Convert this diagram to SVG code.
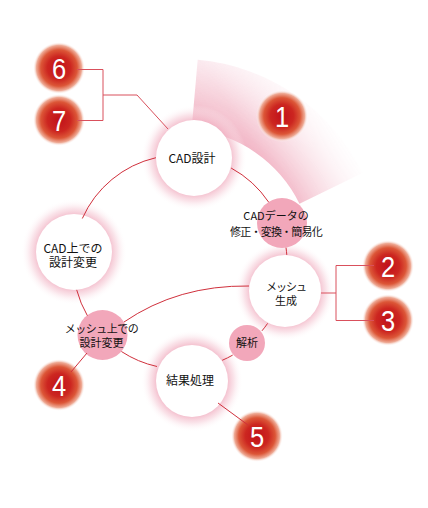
<svg xmlns="http://www.w3.org/2000/svg" width="428" height="508" viewBox="0 0 428 508">
<defs>
<radialGradient id="fanGrad" gradientUnits="userSpaceOnUse" cx="180" cy="262" r="203">
<stop offset="0.64" stop-color="#f0a9bc" stop-opacity="1"/>
<stop offset="0.8" stop-color="#f4c2cf" stop-opacity="0.95"/>
<stop offset="1" stop-color="#fae3ea" stop-opacity="0.85"/>
</radialGradient>
<linearGradient id="fanFade" gradientUnits="userSpaceOnUse" x1="205" y1="150" x2="330" y2="70">
<stop offset="0" stop-color="#ffffff"/>
<stop offset="0.3" stop-color="#d8d8d8"/>
<stop offset="0.85" stop-color="#000000"/>
</linearGradient>
<mask id="fanMask" maskUnits="userSpaceOnUse" x="0" y="0" width="428" height="508">
<rect x="0" y="0" width="428" height="508" fill="url(#fanFade)"/>
</mask>
<radialGradient id="glow">
<stop offset="0.66" stop-color="#f0aabd" stop-opacity="0.9"/>
<stop offset="0.82" stop-color="#f6cdd8" stop-opacity="0.55"/>
<stop offset="1" stop-color="#ffffff" stop-opacity="0"/>
</radialGradient>
<radialGradient id="badge">
<stop offset="0" stop-color="#c0101a"/>
<stop offset="0.45" stop-color="#cc2620"/>
<stop offset="0.7" stop-color="#dc5637"/>
<stop offset="0.87" stop-color="#eeaa95"/>
<stop offset="1" stop-color="#ffffff" stop-opacity="0"/>
</radialGradient>
<style>
.glow{fill:url(#glow)}
.wc{fill:#ffffff}
.pc{fill:#f2a7ba}
.bd{fill:url(#badge)}
.t{font-family:"Noto Sans CJK JP","Noto Sans",sans-serif;font-size:12px;fill:#111111;text-anchor:middle}
.ts{font-family:"Noto Sans CJK JP","Noto Sans",sans-serif;font-size:11px;fill:#111111;text-anchor:middle}
.n{font-family:"Liberation Sans","Arial",sans-serif;font-size:30px;fill:#ffffff;text-anchor:middle}
.c{fill:none;stroke:#d0303c;stroke-width:1}
.b{fill:none;stroke:#d9505c;stroke-width:1}
</style>
</defs>
<path id="fan" d="M 197.7 59.8 A 203 203 0 0 1 362.5 173.0 L 299.5 203.7 A 133 133 0 0 0 191.6 129.5 Z" fill="url(#fanGrad)" mask="url(#fanMask)"/>
<g id="node-cad">
<circle class="glow" cx="194" cy="158" r="53"/>
<circle class="wc" cx="194" cy="158" r="38"/>
<text class="t" x="192" y="163">CAD設計</text>
</g>
<g id="node-cadchange">
<circle class="glow" cx="74" cy="252" r="53"/>
<circle class="wc" cx="74" cy="252" r="38"/>
<text class="t"><tspan x="73" y="253">CAD上での</tspan><tspan x="73" y="267">設計変更</tspan></text>
</g>
<g id="node-mesh">
<circle class="glow" cx="285" cy="291" r="50"/>
<circle class="wc" cx="285" cy="291" r="36"/>
<text class="ts"><tspan x="286" y="291" letter-spacing="-1">メッシュ</tspan><tspan x="286" y="305">生成</tspan></text>
</g>
<g id="node-result">
<circle class="glow" cx="192" cy="381" r="51"/>
<circle class="wc" cx="192" cy="381" r="36"/>
<text class="t" x="190" y="385">結果処理</text>
</g>
<g id="node-cadfix">
<circle class="pc" cx="282" cy="223" r="25"/>
<text class="ts"><tspan x="276" y="220">CADデータの</tspan><tspan x="276" y="236" letter-spacing="-0.8">修正・変換・簡易化</tspan></text>
</g>
<g id="node-meshchange">
<circle class="pc" cx="102.5" cy="335" r="25"/>
<text class="ts"><tspan x="101.5" y="333" letter-spacing="-0.5">メッシュ上での</tspan><tspan x="101.5" y="347">設計変更</tspan></text>
</g>
<g id="node-analysis">
<circle class="pc" cx="247" cy="343" r="18"/>
<text class="ts" x="247" y="347">解析</text>
</g>
<g id="badge-1"><circle class="bd" cx="282" cy="116" r="26"/><text class="n" transform="translate(282,127) scale(0.85,1)">1</text></g>
<g id="badge-2"><circle class="bd" cx="388" cy="266" r="26"/><text class="n" transform="translate(388,277) scale(0.85,1)">2</text></g>
<g id="badge-3"><circle class="bd" cx="388" cy="320" r="26"/><text class="n" transform="translate(388,331) scale(0.85,1)">3</text></g>
<g id="badge-4"><circle class="bd" cx="59" cy="385" r="26"/><text class="n" transform="translate(59,396) scale(0.85,1)">4</text></g>
<g id="badge-5"><circle class="bd" cx="257" cy="436" r="26"/><text class="n" transform="translate(257,447) scale(0.85,1)">5</text></g>
<g id="badge-6"><circle class="bd" cx="59" cy="68" r="26"/><text class="n" transform="translate(59,79) scale(0.85,1)">6</text></g>
<g id="badge-7"><circle class="bd" cx="59" cy="120" r="26"/><text class="n" transform="translate(59,131) scale(0.85,1)">7</text></g>
<g id="connectors">
<path class="c" d="M 231.1 168.0 A 107 107 0 0 1 268.7 202.2"/>
<path class="c" d="M 286.0 247.7 A 107 107 0 0 1 286.8 254.9"/>
<path class="c" d="M 267.6 323.4 A 107 107 0 0 1 262.0 330.8"/>
<path class="c" d="M 232.7 355.1 A 107 107 0 0 1 222.2 360.3"/>
<path class="c" d="M 157.0 366.5 A 107 107 0 0 1 121.4 351.5"/>
<path class="c" d="M 87.4 315.7 A 107 107 0 0 1 76.7 289.9"/>
<path class="c" d="M 82.3 218.5 A 107 107 0 0 1 155.9 157.7"/>
<path class="c" d="M 124 322 Q 178 285 249 286"/>
<path class="c" d="M 87 353 L 71 372"/>
<path class="c" d="M 218 403 L 248 425"/>
<path class="b" d="M 77 69.5 H 103 V 120.5 H 77 M 103 95 H 137 L 168 129"/>
<path class="b" d="M 374 265.5 H 336 V 320.5 H 374 M 321 293 H 336"/>
</g>
</svg>
